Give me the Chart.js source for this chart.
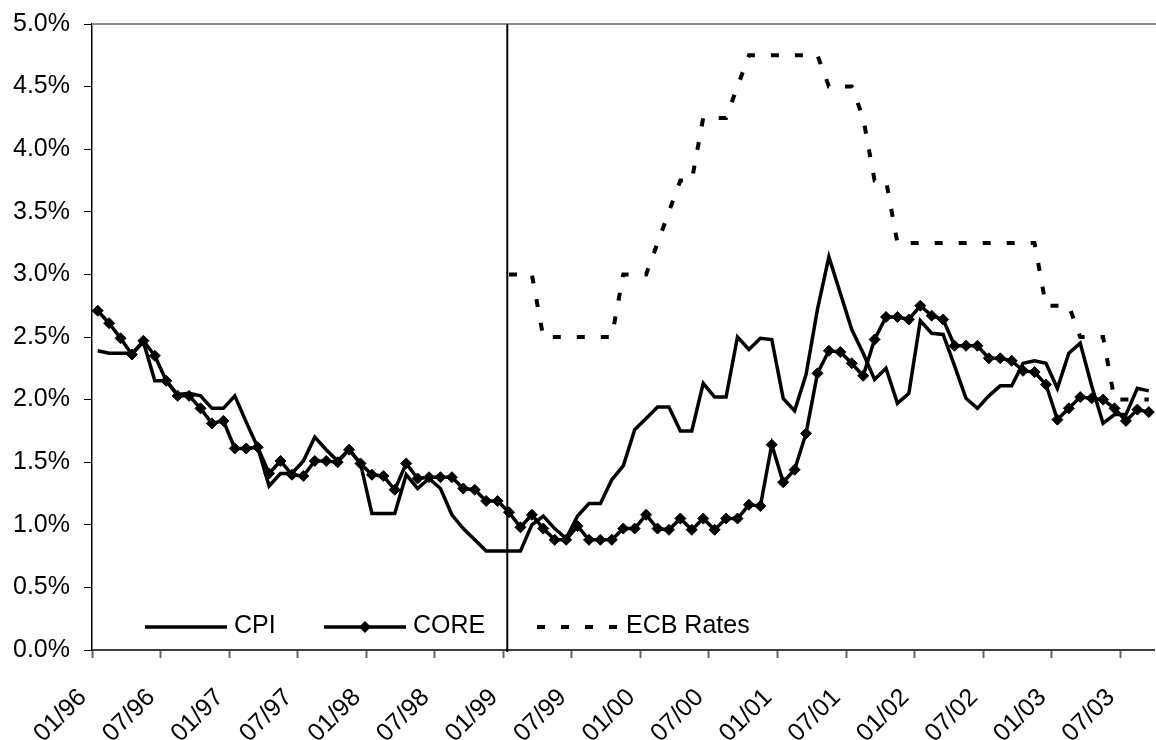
<!DOCTYPE html>
<html>
<head>
<meta charset="utf-8">
<title>CPI, CORE and ECB Rates</title>
<script src="https://cdn.jsdelivr.net/npm/chart.js@4.4.1/dist/chart.umd.min.js"></script>
<style>
  html, body { margin: 0; padding: 0; background: #ffffff; }
</style>
</head>
<body>
<canvas id="chart" width="1156" height="740"></canvas>
<script>
// monthly categories, 01/96 .. 09/03
const months = [];
for (let y = 1996; y <= 2003; y++) {
    for (let m = 1; m <= 12; m++) {
        if (y === 2003 && m > 9) break;
        months.push(String(m).padStart(2, "0") + "/" + String(y).slice(2));
    }
}

// only these months get a label and a tick mark
const tickLabels = [
    "01/96", "07/96", "01/97", "07/97", "01/98", "07/98", "01/99", "07/99",
    "01/00", "07/00", "01/01", "07/01", "01/02", "07/02", "01/03", "07/03"
];

// % y/y
const cpi = [
    2.39, 2.37, 2.37, 2.37, 2.46, 2.15, 2.15, 2.04, 2.05, 2.03, 1.93, 1.93,
    2.03, 1.82, 1.62, 1.31, 1.41, 1.41, 1.51, 1.70, 1.60, 1.51, 1.60, 1.49,
    1.09, 1.09, 1.09, 1.40, 1.29, 1.37, 1.29, 1.08, 0.97, 0.88, 0.79, 0.79,
    0.79, 0.79, 1.00, 1.07, 0.97, 0.89, 1.07, 1.17, 1.17, 1.36, 1.47, 1.76,
    1.85, 1.94, 1.94, 1.75, 1.75, 2.13, 2.02, 2.02, 2.50, 2.40, 2.49, 2.48,
    2.01, 1.91, 2.20, 2.72, 3.14, 2.85, 2.56, 2.37, 2.16, 2.25, 1.97, 2.05,
    2.63, 2.53, 2.52, 2.27, 2.01, 1.93, 2.03, 2.11, 2.11, 2.29, 2.31, 2.29,
    2.09, 2.37, 2.45, 2.11, 1.81, 1.88, 1.88, 2.09, 2.07
];

const core = [
    2.71, 2.61, 2.49, 2.36, 2.47, 2.35, 2.15, 2.03, 2.03, 1.93, 1.81, 1.83,
    1.61, 1.61, 1.62, 1.41, 1.51, 1.40, 1.39, 1.51, 1.51, 1.50, 1.60, 1.49,
    1.40, 1.39, 1.28, 1.49, 1.37, 1.38, 1.38, 1.38, 1.29, 1.28, 1.19, 1.19,
    1.10, 0.98, 1.08, 0.97, 0.88, 0.88, 0.99, 0.88, 0.88, 0.88, 0.97, 0.97,
    1.08, 0.97, 0.96, 1.05, 0.96, 1.05, 0.96, 1.05, 1.05, 1.16, 1.15, 1.64,
    1.34, 1.44, 1.73, 2.21, 2.39, 2.38, 2.29, 2.19, 2.48, 2.66, 2.66, 2.64,
    2.75, 2.67, 2.64, 2.43, 2.43, 2.43, 2.33, 2.33, 2.31, 2.23, 2.22, 2.12,
    1.84, 1.93, 2.02, 2.01, 2.00, 1.93, 1.83, 1.92, 1.90
];

// ECB rate only from 01/99
const ecbRates = [
    null, null, null, null, null, null, null, null, null, null, null, null,
    null, null, null, null, null, null, null, null, null, null, null, null,
    null, null, null, null, null, null, null, null, null, null, null, null,
    3.00, 3.00, 3.00, 2.50, 2.50, 2.50, 2.50, 2.50, 2.50, 2.50, 3.00, 3.00,
    3.00, 3.25, 3.50, 3.75, 3.75, 4.25, 4.25, 4.25, 4.50, 4.75, 4.75, 4.75,
    4.75, 4.75, 4.75, 4.75, 4.50, 4.50, 4.50, 4.25, 3.75, 3.75, 3.25, 3.25,
    3.25, 3.25, 3.25, 3.25, 3.25, 3.25, 3.25, 3.25, 3.25, 3.25, 3.25, 2.75,
    2.75, 2.75, 2.50, 2.50, 2.50, 2.00, 2.00, 2.00, 2.00
];

const euroStart = "01/99";

const fontFamily = "'Liberation Sans', Arial, sans-serif";

// grey top border + vertical marker at the start of the euro
const framePlugin = {
    id: "frame",
    beforeDatasetsDraw(chart) {
        const { ctx, chartArea, scales } = chart;
        const x = scales.x;
        const i = months.indexOf(euroStart);
        const step = x.getPixelForValue(1) - x.getPixelForValue(0);
        const xv = x.getPixelForValue(i) - step * 0.15;
        ctx.save();
        ctx.strokeStyle = "#8c8c8c";
        ctx.lineWidth = 2;
        ctx.beginPath();
        ctx.moveTo(chartArea.left, chartArea.top);
        ctx.lineTo(chartArea.right + 2, chartArea.top);
        ctx.stroke();
        ctx.strokeStyle = "#000000";
        ctx.lineWidth = 2;
        ctx.beginPath();
        ctx.moveTo(xv, chartArea.top);
        ctx.lineTo(xv, chartArea.bottom + 2);
        ctx.stroke();
        ctx.restore();
    }
};

// legend sitting inside the plot, along the bottom
const insideLegend = {
    id: "insideLegend",
    afterDatasetsDraw(chart, args, opts) {
        const { ctx, chartArea } = chart;
        const y = chartArea.bottom - opts.bottomOffset;
        ctx.save();
        ctx.font = opts.font;
        ctx.textBaseline = "alphabetic";
        chart.data.datasets.forEach((ds, i) => {
            const x0 = chartArea.left + opts.offsets[i];
            ctx.strokeStyle = ds.borderColor;
            ctx.lineWidth = ds.borderWidth;
            ctx.setLineDash(ds.borderDash || []);
            ctx.beginPath();
            ctx.moveTo(x0, y);
            ctx.lineTo(x0 + opts.sampleWidth, y);
            ctx.stroke();
            ctx.setLineDash([]);
            if (ds.pointRadius > 0) {
                const cx = x0 + opts.sampleWidth / 2;
                const r = ds.pointRadius;
                ctx.fillStyle = ds.pointBackgroundColor;
                ctx.lineWidth = ds.pointBorderWidth;
                ctx.beginPath();
                ctx.moveTo(cx - r, y);
                ctx.lineTo(cx, y - r);
                ctx.lineTo(cx + r, y);
                ctx.lineTo(cx, y + r);
                ctx.closePath();
                ctx.fill();
                ctx.stroke();
            }
            ctx.fillStyle = "#000000";
            ctx.fillText(ds.label, x0 + opts.sampleWidth + opts.gap, y + 6);
        });
        ctx.restore();
    }
};

const ctx = document.getElementById("chart").getContext("2d");

new Chart(ctx, {
    type: "line",
    data: {
        labels: months,
        datasets: [
            {
                label: "CPI",
                data: cpi,
                borderColor: "#000000",
                borderWidth: 3.5,
                pointRadius: 0,
                tension: 0
            },
            {
                label: "CORE",
                data: core,
                borderColor: "#000000",
                borderWidth: 3.5,
                pointStyle: "rectRot",
                pointRadius: 5.5,
                pointBorderWidth: 1,
                pointBackgroundColor: "#000000",
                pointBorderColor: "#000000",
                tension: 0
            },
            {
                label: "ECB Rates",
                data: ecbRates,
                borderColor: "#000000",
                borderWidth: 4,
                borderDash: [8, 16],
                pointRadius: 0,
                spanGaps: false,
                tension: 0
            }
        ]
    },
    options: {
        responsive: false,
        animation: false,
        events: [],
        layout: {
            autoPadding: false,
            padding: { top: 24, right: 1.5, left: 0, bottom: 0 }
        },
        plugins: {
            legend: { display: false },
            tooltip: { enabled: false },
            insideLegend: {
                offsets: [53, 232, 445],
                sampleWidth: 82,
                gap: 7,
                bottomOffset: 23,
                font: "25px " + fontFamily
            }
        },
        scales: {
            x: {
                type: "category",
                offset: true,
                grid: {
                    offset: true,
                    drawOnChartArea: false,
                    drawTicks: true,
                    tickLength: 8,
                    tickWidth: 2,
                    tickColor: (c) => tickLabels.includes(months[c.index]) ? "#666666" : "rgba(0,0,0,0)"
                },
                border: { color: "#404040", width: 2 },
                ticks: {
                    autoSkip: false,
                    minRotation: 45,
                    maxRotation: 45,
                    padding: 25,
                    labelOffset: -15,
                    color: "#000000",
                    font: { family: fontFamily, size: 25 },
                    callback: (value, index) => tickLabels.includes(months[index]) ? months[index] : ""
                },
                afterFit: (scale) => {
                    scale.height = 90;
                    scale.paddingLeft = 0;
                    scale.paddingRight = 0;
                }
            },
            y: {
                min: 0,
                max: 5,
                grid: {
                    drawOnChartArea: false,
                    tickLength: 8,
                    tickColor: "#000000",
                    tickWidth: 1
                },
                border: { color: "#000000", width: 1.5 },
                ticks: {
                    stepSize: 0.5,
                    padding: 14,
                    color: "#000000",
                    font: { family: fontFamily, size: 25 },
                    callback: (v) => v.toFixed(1) + "%"
                },
                afterFit: (scale) => {
                    scale.width = 92;
                    scale.paddingTop = 0;
                    scale.paddingBottom = 0;
                }
            }
        }
    },
    plugins: [framePlugin, insideLegend]
});
</script>
</body>
</html>
